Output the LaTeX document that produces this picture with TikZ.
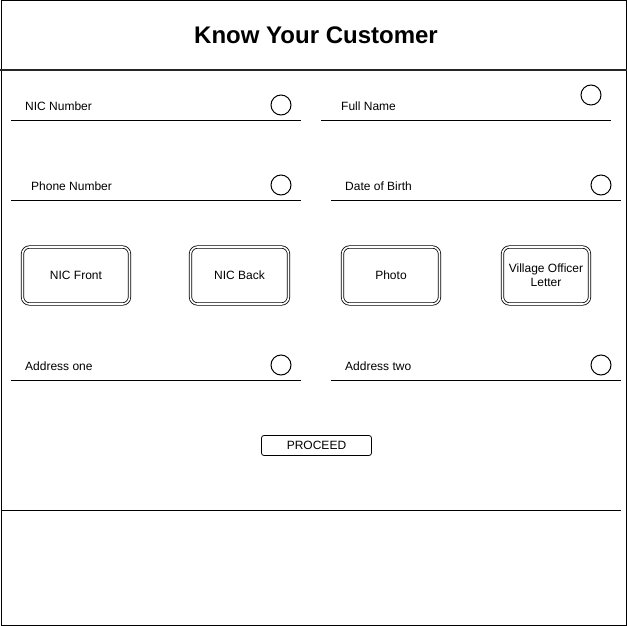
\documentclass[tikz,border=0pt]{standalone}
\usepackage{fontspec}
\setmainfont{Liberation Sans}
\begin{document}
\begin{tikzpicture}[x=1pt,y=-1pt,
  lbl/.style={anchor=west,font=\fontsize{12}{14}\selectfont,inner sep=0pt},
  uline/.style={line width=1pt},
  radio/.style={circle,draw,line width=1pt,minimum size=20pt,inner sep=0pt},
  upbtn/.style={draw,double,double distance=1.6pt,line width=0.8pt,rounded corners=7pt,
     font=\fontsize{12}{14}\selectfont,align=center,inner sep=0pt},
  okbtn/.style={draw,line width=0.8pt,rounded corners=2.5pt,font=\fontsize{12}{14}\selectfont,inner sep=0pt}]
\useasboundingbox (0,0) rectangle (627,626);
\draw[line width=1pt] (1,1) rectangle (626,625);
\coordinate (hl) at (0,70); \coordinate (hr) at (627,70);
\draw[line width=2pt,black!85] (hl) -- (hr);
\node[font=\fontsize{24}{28}\selectfont\bfseries] (title) at (316,35) {Know Your Customer};
% bottom separator
\coordinate (bl) at (1,510); \coordinate (br) at (621,510);
\draw[line width=1pt] (bl) -- (br);
% fields
\node[lbl] (nic) at (25,106) {NIC Number};
\coordinate (l1a) at (11,120); \coordinate (l1b) at (301,120); \draw[uline] (l1a) -- (l1b);
\node[radio] (r1) at (281,105) {};
\node[lbl] (fn) at (341,106) {Full Name};
\coordinate (l2a) at (321,120); \coordinate (l2b) at (611,120); \draw[uline] (l2a) -- (l2b);
\node[radio] (r2) at (591,95) {};
\node[lbl] (ph) at (31,186) {Phone Number};
\coordinate (l3a) at (11,200); \coordinate (l3b) at (301,200); \draw[uline] (l3a) -- (l3b);
\node[radio] (r3) at (281,185) {};
\node[lbl] (dob) at (345,186) {Date of Birth};
\coordinate (l4a) at (331,200); \coordinate (l4b) at (621,200); \draw[uline] (l4a) -- (l4b);
\node[radio] (r4) at (601,185) {};
\node[lbl] (a1) at (25,366) {Address one};
\coordinate (l5a) at (11,380); \coordinate (l5b) at (301,380); \draw[uline] (l5a) -- (l5b);
\node[radio] (r5) at (281,365) {};
\node[lbl] (a2) at (345,366) {Address two};
\coordinate (l6a) at (331,380); \coordinate (l6b) at (621,380); \draw[uline] (l6a) -- (l6b);
\node[radio] (r6) at (601,365) {};
% upload buttons
\node[upbtn,minimum width=107pt,minimum height=57pt] (nf) at (76,275.5) {NIC Front};
\node[upbtn,minimum width=98pt,minimum height=57pt] (nb) at (239.5,275.5) {NIC Back};
\node[upbtn,minimum width=97pt,minimum height=57pt] (pho) at (391,275.5) {Photo};
\node[upbtn,minimum width=87pt,minimum height=57pt] (vol) at (546,275.5) {Village Officer\\Letter};
% proceed
\node[okbtn,minimum width=110pt,minimum height=20pt] (go) at (316.5,445.5) {PROCEED};
\end{tikzpicture}
\end{document}
